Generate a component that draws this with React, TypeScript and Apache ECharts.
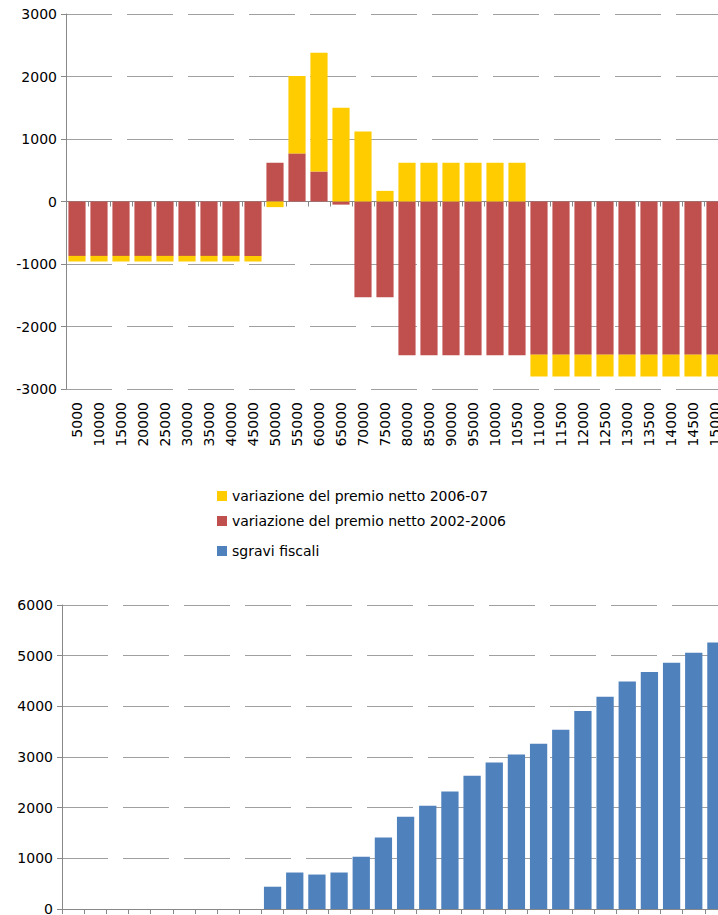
import React, { useEffect, useRef } from "react";
import * as echarts from "echarts";

const categories = [
  "5000", "10000", "15000", "20000", "25000", "30000", "35000", "40000", "45000", "50000",
  "55000", "60000", "65000", "70000", "75000", "80000", "85000", "90000", "95000", "100000",
  "105000", "110000", "115000", "120000", "125000", "130000", "135000", "140000", "145000", "150000",
];

const tickLabels = [
  "5000", "10000", "15000", "20000", "25000", "30000", "35000", "40000", "45000", "50000",
  "55000", "60000", "65000", "70000", "75000", "80000", "85000", "90000", "95000", "10000",
  "10500", "11000", "11500", "12000", "12500", "13000", "13500", "14000", "14500", "15000",
];

const var2002_2006 = [
  -870, -870, -870, -870, -870, -870, -870, -870, -870, 620,
  770, 480, -50, -1530, -1530, -2460, -2460, -2460, -2460, -2460,
  -2460, -2450, -2450, -2450, -2450, -2450, -2450, -2450, -2450, -2450,
];

const var2006_07 = [
  -90, -90, -90, -90, -90, -90, -90, -90, -90, -90,
  1240, 1900, 1500, 1120, 170, 620, 620, 620, 620, 620,
  620, -350, -350, -350, -350, -350, -350, -350, -350, -350,
];

const sgraviFiscali = [
  0, 0, 0, 0, 0, 0, 0, 0, 0, 440,
  720, 680, 720, 1030, 1410, 1820, 2040, 2320, 2630, 2890,
  3050, 3260, 3540, 3910, 4190, 4490, 4680, 4860, 5060, 5260,
];

const NAME_0607 = "variazione del premio netto 2006-07";
const NAME_0206 = "variazione del premio netto 2002-2006";
const NAME_SGRAVI = "sgravi fiscali";

const FONT = "DejaVu Sans";
const AXIS_COLOR = "#888888";
const GRID_COLOR = "#a0a0a0";

export default function App() {
  const ref = useRef<HTMLDivElement>(null);

  useEffect(() => {
    if (!ref.current) return;
    const chart = echarts.init(ref.current, undefined, { renderer: "svg" });
    const legendBase = {
      orient: "horizontal",
      left: 217,
      padding: 0,
      itemWidth: 10,
      itemHeight: 10,
      icon: "rect",
      selectedMode: false,
      textStyle: { fontFamily: FONT, fontSize: 14, color: "#000" },
    };
    const splitLine = {
      show: true,
      lineStyle: { color: GRID_COLOR, width: 1, type: [46, 15] },
    };
    chart.setOption({
      animation: false,
      backgroundColor: "#ffffff",
      textStyle: { fontFamily: FONT },
      legend: [
        { ...legendBase, top: 489, data: [NAME_0607] },
        { ...legendBase, top: 514, data: [NAME_0206] },
        { ...legendBase, top: 544, data: [NAME_SGRAVI] },
      ],
      grid: [
        { left: 66, top: 14, width: 660, height: 375, outerBoundsMode: "none", containLabel: false },
        { left: 62, top: 605, width: 665, height: 304, outerBoundsMode: "none", containLabel: false },
      ],
      xAxis: [
        {
          type: "category",
          gridIndex: 0,
          data: categories,
          position: "bottom",
          axisLine: { show: true, onZero: true, lineStyle: { color: AXIS_COLOR } },
          axisTick: { show: true, length: 5, interval: 0, lineStyle: { color: AXIS_COLOR } },
          axisLabel: { show: false, interval: 0 },
          splitLine: { show: false },
        },
        {
          type: "category",
          gridIndex: 0,
          data: categories,
          position: "bottom",
          axisLine: { show: false, onZero: false },
          axisTick: { show: false },
          axisLabel: {
            show: true,
            rotate: 90,
            margin: 13,
            interval: 0,
            fontFamily: FONT,
            fontSize: 14,
            color: "#000",
            formatter: (_v: string, i: number) => tickLabels[i],
          },
          splitLine: { show: false },
        },
        {
          type: "category",
          gridIndex: 1,
          data: categories,
          position: "bottom",
          axisLine: { show: true, lineStyle: { color: AXIS_COLOR } },
          axisTick: { show: true, length: 5, interval: 0, lineStyle: { color: AXIS_COLOR } },
          axisLabel: { show: false, interval: 0 },
          splitLine: { show: false },
        },
      ],
      yAxis: [
        {
          type: "value",
          gridIndex: 0,
          min: -3000,
          max: 3000,
          interval: 1000,
          axisLine: { show: true, lineStyle: { color: AXIS_COLOR } },
          axisTick: { show: true, length: 5, lineStyle: { color: AXIS_COLOR } },
          axisLabel: {
            margin: 9,
            fontFamily: FONT,
            fontSize: 14,
            color: "#000",
            formatter: (v: number) => String(v),
          },
          splitLine,
        },
        {
          type: "value",
          gridIndex: 1,
          min: 0,
          max: 6000,
          interval: 1000,
          axisLine: { show: true, lineStyle: { color: AXIS_COLOR } },
          axisTick: { show: true, length: 5, lineStyle: { color: AXIS_COLOR } },
          axisLabel: {
            margin: 9,
            fontFamily: FONT,
            fontSize: 14,
            color: "#000",
            formatter: (v: number) => String(v),
          },
          splitLine,
        },
      ],
      series: [
        {
          name: NAME_0206,
          type: "bar",
          stack: "var",
          xAxisIndex: 0,
          yAxisIndex: 0,
          data: var2002_2006,
          barCategoryGap: "22%",
          itemStyle: { color: "#C0504D" },
        },
        {
          name: NAME_0607,
          type: "bar",
          stack: "var",
          xAxisIndex: 0,
          yAxisIndex: 0,
          data: var2006_07,
          barCategoryGap: "22%",
          itemStyle: { color: "#FFCC00" },
        },
        {
          name: NAME_SGRAVI,
          type: "bar",
          xAxisIndex: 2,
          yAxisIndex: 1,
          data: sgraviFiscali,
          barCategoryGap: "22%",
          itemStyle: { color: "#4F81BD" },
        },
      ],
    });
    return () => chart.dispose();
  }, []);

  return (
    <div
      ref={ref}
      style={{ position: "absolute", left: 0, top: 0, width: 718, height: 915, background: "#fff" }}
    />
  );
}
